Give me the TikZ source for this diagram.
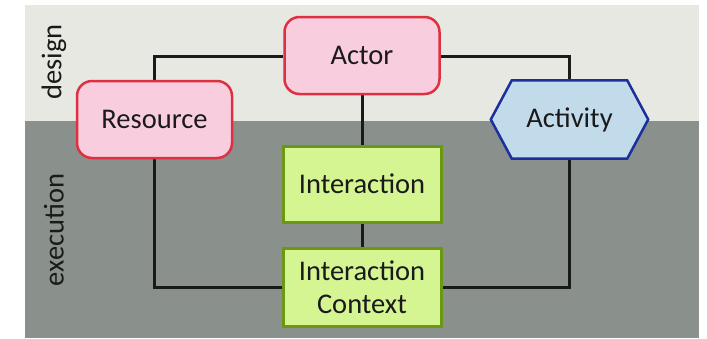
\documentclass[tikz,border=0pt]{standalone}
\usepackage{fontspec}
\setmainfont{Carlito}
\definecolor{bandlight}{HTML}{E6E8E1}
\definecolor{banddark}{HTML}{8A918D}
\definecolor{pinkfill}{HTML}{F8CDDE}
\definecolor{pinkline}{HTML}{DE3040}
\definecolor{bluefill}{HTML}{C2DBEB}
\definecolor{blueline}{HTML}{1C2F9C}
\definecolor{greenfill}{HTML}{D4F592}
\definecolor{greenline}{HTML}{6A9812}
\definecolor{ink}{HTML}{1A1A1A}
\pgfdeclarelayer{bands}
\pgfdeclarelayer{links}
\pgfsetlayers{bands,links,main}
\begin{document}
\begin{tikzpicture}[x=1pt,y=-1pt,
  every node/.style={font=\fontsize{28.5}{34}\selectfont, text=ink},
  rolebox/.style={draw=pinkline, fill=pinkfill, line width=2.5pt, rounded corners=15pt,
    minimum width=155pt, minimum height=77pt, inner sep=0pt},
  stepbox/.style={draw=greenline, fill=greenfill, line width=3pt,
    minimum width=158pt, minimum height=76pt, inner sep=0pt, align=center},
  link/.style={draw=ink, line width=3pt},
  bandlabel/.style={rotate=90}]
  \useasboundingbox (0,0) rectangle (707,338);
  % background bands
  \begin{pgfonlayer}{bands}
    \fill[bandlight] (25,5) rectangle (699,121);
    \fill[banddark] (25,121) rectangle (699,338);
  \end{pgfonlayer}
  \node[bandlabel] (design) at (54,62) {design};
  \node[bandlabel] (execution) at (54,230) {execution};
  % connector corner points
  \coordinate (tl) at (154,56);
  \coordinate (tr) at (569,56);
  \coordinate (bl) at (154,287);
  \coordinate (br) at (569,287);
  % nodes
  \node[rolebox] (actor) at (362,55.5) {Actor};
  \node[rolebox] (resource) at (154.5,119.5) {Resource};
  \node[stepbox] (interaction) at (362,184) {Interaction};
  \node[stepbox, minimum height=78pt] (context) at (362,287.5) {Interaction\\[-1pt]Context};
  % hexagonal activity shape around an invisible node
  \node[minimum width=157pt, minimum height=78pt, inner sep=0pt] (activity) at (569.5,119.5) {};
  \draw[blueline, fill=bluefill, line width=2.5pt, line join=miter]
    (activity.west) -- ([xshift=21pt]activity.north west) -- ([xshift=-21pt]activity.north east)
    -- (activity.east) -- ([xshift=-21pt]activity.south east) -- ([xshift=21pt]activity.south west) -- cycle;
  \node (activitytext) at (activity.center) {Activity};
  % connectors, behind the shapes
  \begin{pgfonlayer}{links}
    \draw[link] (actor.west |- tl) -- (tl) -- (resource.north -| tl);
    \draw[link] (actor.east |- tr) -- (tr) -- (activity.north -| tr);
    \draw[link] (actor.south) -- (interaction.north);
    \draw[link] (interaction.south) -- (context.north);
    \draw[link] (resource.south -| bl) -- (bl) -- (context.west |- bl);
    \draw[link] (activity.south -| br) -- (br) -- (context.east |- br);
  \end{pgfonlayer}
\end{tikzpicture}
\end{document}
